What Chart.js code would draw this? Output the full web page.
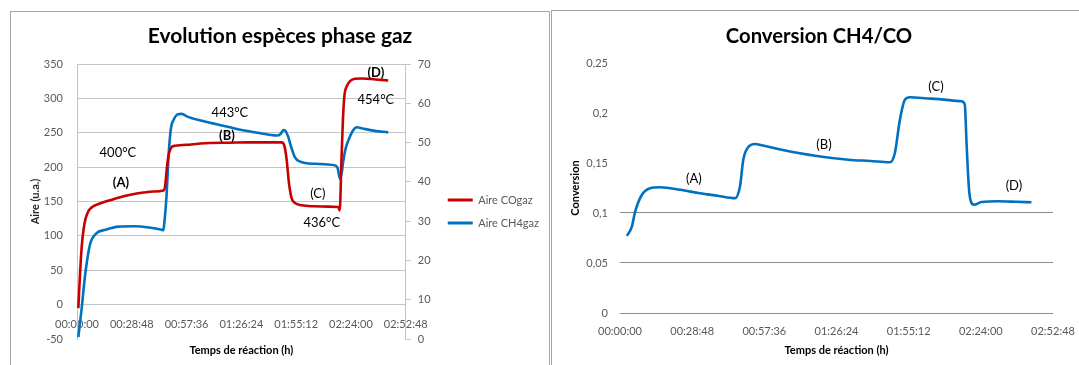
<!DOCTYPE html>
<html>
<head>
<meta charset="utf-8">
<script src="https://cdn.jsdelivr.net/npm/chart.js@4.4.1/dist/chart.umd.min.js"></script>
<style>
  html, body { margin: 0; padding: 0; background: #fff; width: 1079px; height: 365px; overflow: hidden; position: relative; }
  .frame { position: absolute; border: 1px solid #a6a6a6; box-sizing: border-box; }
  #f1 { left: 10px; top: 11px; width: 540px; height: 400px; }
  #f2 { left: 551px; top: 10px; width: 600px; height: 400px; }
  canvas { position: absolute; }
  #c1 { left: 11px; top: 12px; }
  #c2 { left: 552px; top: 11px; }
</style>
</head>
<body>
<div class="frame" id="f1"></div>
<div class="frame" id="f2"></div>
<canvas id="c1" width="538" height="353"></canvas>
<canvas id="c2" width="527" height="354"></canvas>
<script>
// ---- Data: reaction time in minutes ----
const tCO = [0.7, 1.5, 2.5, 3.5, 4.5, 6, 8, 11, 15, 20, 25, 30, 35, 40, 45.4, 46.3, 47.1, 48, 49.7, 51.6, 60, 69, 80, 90, 100, 107.5, 109, 110.2, 111.4, 112.8, 114.5, 118, 125, 132, 137.3, 138.1, 139, 139.8, 140.6, 141.7, 143.5, 146, 150, 157, 163.6];
const aireCO = [-5, 40, 85, 110, 125, 136, 142, 146, 150, 154, 158, 161, 163, 164.5, 166, 172, 195, 215, 229, 231, 233, 235, 235.5, 236, 236, 236, 231, 211, 177, 155, 148, 144.5, 143, 142.5, 142, 137, 210, 270, 305, 317, 325, 328.5, 329, 327.5, 326];

const tCH4 = [0.7, 2.5, 4.2, 6.8, 10, 15, 22, 30, 38, 44, 45.4, 46, 47, 48.3, 49.5, 50.6, 53, 55, 58, 65, 75, 86.5, 95, 105, 107, 108.5, 109.5, 111, 112.5, 114.5, 117, 125, 135.5, 137, 138.2, 139.2, 140, 141.2, 142.6, 145, 147, 150, 155, 163.6];
const aireCH4 = [0.5, 8, 16, 24, 26.8, 27.8, 28.6, 28.7, 28.4, 27.9, 27.7, 30, 36, 48, 54, 55.6, 57.2, 57.3, 56.6, 55.6, 54.5, 53.2, 52.5, 51.8, 52.2, 53.2, 53, 51.5, 49, 46.3, 45.2, 44.6, 44.2, 43.5, 40.8, 42.5, 45.4, 48.5, 50.5, 53, 53.9, 53.6, 53.1, 52.6];

const tConv = [2.7, 4.7, 6, 8.7, 12, 16, 24, 31.9, 39, 45.9, 47.9, 49.2, 51.2, 53.9, 56.5, 64.5, 77.8, 91.1, 100, 107.7, 109.7, 111.7, 113.7, 115.7, 124.3, 136.3, 137.6, 138.3, 139.2, 140, 141.3, 144.3, 150.9, 158, 164.2];
const conversion = [0.077, 0.086, 0.101, 0.118, 0.1247, 0.1257, 0.1232, 0.1197, 0.1172, 0.1147, 0.1267, 0.1533, 0.166, 0.169, 0.1677, 0.1633, 0.1573, 0.1533, 0.152, 0.1507, 0.16, 0.1933, 0.2133, 0.2157, 0.2143, 0.2117, 0.2083, 0.17, 0.1267, 0.1117, 0.1083, 0.111, 0.1117, 0.1112, 0.1107];

// ---- Tick labels ----
const timeTicks = ['00:00:00', '00:28:48', '00:57:36', '01:26:24', '01:55:12', '02:24:00', '02:52:48'];
const aireTicks = ['-50', '0', '50', '100', '150', '200', '250', '300', '350'];
const ch4Ticks = ['0', '10', '20', '30', '40', '50', '60', '70'];
const convTicks = ['0', '0,05', '0,1', '0,15', '0,2', '0,25'];

// ---- Text notes placed in data coordinates (minutes, axis value) ----
const notesGaz = [
  { text: '400°C', t: 21.5, v: 221, bold: false },
  { text: '(A)', t: 23.1, v: 177, bold: true },
  { text: '443°C', t: 80.4, v: 279, bold: false },
  { text: '(B)', t: 78.8, v: 245, bold: true },
  { text: '(C)', t: 126.6, v: 161, bold: false },
  { text: '436°C', t: 128.7, v: 119, bold: false },
  { text: '(D)', t: 157.1, v: 337, bold: true },
  { text: '454°C', t: 157.1, v: 298, bold: false }
];
const notesConv = [
  { text: '(A)', t: 29.5, v: 0.134 },
  { text: '(B)', t: 81.4, v: 0.168 },
  { text: '(C)', t: 126.1, v: 0.226 },
  { text: '(D)', t: 157.2, v: 0.127 }
];

const FONT = "Lato, 'Liberation Sans', sans-serif";
const TICK_COLOR = '#595959';
const GRID = '#c4c4c4';
const RED = '#c80000';
const BLUE = '#0070c0';

const toPoints = (ts, vs) => ts.map((t, i) => ({ x: t * 60, y: vs[i] }));

function notesPlugin(items, axisId) {
  return {
    id: 'notes',
    afterDatasetsDraw(chart) {
      const { ctx, scales } = chart;
      ctx.save();
      ctx.textAlign = 'center';
      ctx.textBaseline = 'middle';
      ctx.fillStyle = '#000';
      items.forEach(n => {
        ctx.font = (n.bold ? 'bold ' : '') + '13px ' + FONT;
        ctx.fillText(n.text, scales.x.getPixelForValue(n.t * 60), scales[axisId].getPixelForValue(n.v));
      });
      ctx.restore();
    }
  };
}

// Legend width is sized from its longest label so the plot keeps its place
const meas = document.createElement('canvas').getContext('2d');
meas.font = '11px ' + FONT;
const legendTextW = Math.max(meas.measureText('Aire COgaz').width, meas.measureText('Aire CH4gaz').width);
const LEG_PAD = 12, LEG_BOX = 25;
const legendW = LEG_PAD + LEG_BOX + 5.5 + legendTextW + 10;
const PAD1 = Math.max(0, 538 - 425 - legendW);

// ---- Left chart: gas-phase species ----
new Chart(document.getElementById('c1'), {
  type: 'line',
  data: {
    datasets: [
      { label: 'Aire COgaz', data: toPoints(tCO, aireCO), borderColor: RED, backgroundColor: RED, borderWidth: 2.6, pointRadius: 0, cubicInterpolationMode: 'monotone', yAxisID: 'y' },
      { label: 'Aire CH4gaz', data: toPoints(tCH4, aireCH4), borderColor: BLUE, backgroundColor: BLUE, borderWidth: 2.6, pointRadius: 0, cubicInterpolationMode: 'monotone', yAxisID: 'y1' }
    ]
  },
  options: {
    responsive: false, animation: false, events: [], devicePixelRatio: 1,
    layout: { padding: { left: PAD1, right: PAD1, top: 0, bottom: 0 } },
    scales: {
      x: {
        type: 'linear', position: { y: 0 }, min: 0, max: 10368,
        ticks: { stepSize: 1728, autoSkip: false, maxRotation: 0, padding: 5, color: TICK_COLOR, font: { family: FONT, size: 11 }, callback: (v, i) => timeTicks[i] },
        grid: { display: false },
        border: { display: true, color: GRID }
      },
      y: {
        position: 'left', min: -50, max: 350,
        ticks: { stepSize: 50, padding: 14, color: TICK_COLOR, font: { family: FONT, size: 11 }, callback: (v, i) => aireTicks[i] },
        grid: { drawTicks: false, color: c => (c.tick && c.tick.value === -50) ? 'rgba(0,0,0,0)' : GRID },
        border: { display: true, color: GRID },
        title: { display: true, text: 'Aire (u.a.)', color: '#262626', font: { family: FONT, size: 11, weight: 'bold' }, padding: { top: 24 - 6.6 - PAD1, bottom: 0 } },
        afterFit: s => { s.width = 66 - PAD1; }
      },
      y1: {
        position: 'right', min: 0, max: 70,
        ticks: { stepSize: 10, padding: 7, color: TICK_COLOR, font: { family: FONT, size: 11 }, callback: (v, i) => ch4Ticks[i] },
        grid: { drawOnChartArea: false, drawTicks: true, tickLength: 5, color: GRID },
        border: { display: true, color: GRID },
        afterFit: s => { s.width = 30; }
      }
    },
    plugins: {
      title: { display: true, text: 'Evolution espèces phase gaz', color: '#000', font: { family: FONT, size: 21, weight: 'bold' }, padding: { top: 11.4, bottom: 15.4 } },
      subtitle: { display: true, position: 'bottom', fullSize: false, text: 'Temps de réaction (h)', color: '#000', font: { family: FONT, size: 11, weight: 'bold' }, padding: { top: 4.4, bottom: 8.4 } },
      legend: {
        position: 'right', align: 'start', fullSize: false, maxWidth: 200,
        title: { display: true, text: '', font: { size: 1 }, padding: { top: 117.3, bottom: 0 } },
        labels: {
          boxWidth: LEG_BOX, boxHeight: 3, padding: LEG_PAD, color: TICK_COLOR, font: { family: FONT, size: 11 },
          generateLabels: chart => chart.data.datasets.map((d, i) => ({ text: d.label, fillStyle: d.borderColor, strokeStyle: d.borderColor, lineWidth: 0, hidden: false, datasetIndex: i, fontColor: TICK_COLOR }))
        }
      },
      tooltip: { enabled: false }
    }
  },
  plugins: [notesPlugin(notesGaz, 'y')]
});

// ---- Right chart: CH4/CO conversion ----
new Chart(document.getElementById('c2'), {
  type: 'line',
  data: {
    datasets: [
      { label: 'Conversion', data: toPoints(tConv, conversion), borderColor: BLUE, backgroundColor: BLUE, borderWidth: 2.6, pointRadius: 0, cubicInterpolationMode: 'monotone' }
    ]
  },
  options: {
    responsive: false, animation: false, events: [], devicePixelRatio: 1,
    layout: { padding: { left: 33, right: 26, top: 0, bottom: 0 } },
    scales: {
      x: {
        type: 'linear', position: 'bottom', min: 0, max: 10368,
        ticks: { stepSize: 1728, autoSkip: false, maxRotation: 0, padding: 4, color: TICK_COLOR, font: { family: FONT, size: 11 }, callback: (v, i) => timeTicks[i] },
        grid: { display: false },
        border: { display: false },
        title: { display: true, text: 'Temps de réaction (h)', color: '#000', font: { family: FONT, size: 11, weight: 'bold' }, padding: { top: 0, bottom: 8.4 } },
        afterFit: s => { s.height = 52; }
      },
      y: {
        position: 'left', min: 0, max: 0.25,
        ticks: { stepSize: 0.05, padding: 12, color: TICK_COLOR, font: { family: FONT, size: 11 }, callback: (v, i) => convTicks[i] },
        grid: { drawTicks: false, color: c => (c.tick && c.tick.value <= 0.1001) ? '#8c8c8c' : 'rgba(0,0,0,0)' },
        border: { display: false },
        title: { display: true, text: 'Conversion', color: '#000', font: { family: FONT, size: 11, weight: 'bold' }, padding: { top: 23 - 6.6 - 33, bottom: 0 } },
        afterFit: s => { s.width = 68 - 33; }
      }
    },
    plugins: {
      title: { display: true, text: 'Conversion CH4/CO', color: '#000', font: { family: FONT, size: 20.3, weight: 'bold' }, padding: { top: 12.8, bottom: 14.8 } },
      legend: { display: false },
      tooltip: { enabled: false }
    }
  },
  plugins: [notesPlugin(notesConv, 'y')]
});
</script>
</body>
</html>
